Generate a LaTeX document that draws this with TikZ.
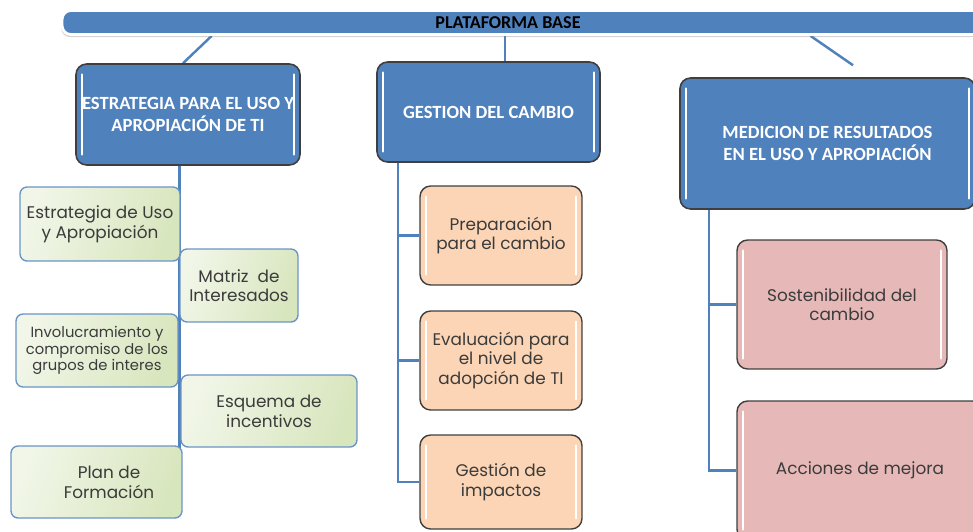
\documentclass[tikz,border=0pt]{standalone}
\usepackage{fontspec}
\setmainfont{Poppins}
\newfontfamily\cabfont{Carlito}
\usetikzlibrary{backgrounds,shadows}

\definecolor{azulcab}{HTML}{4F81BD}
\definecolor{bordeos}{HTML}{3F3F3F}
\definecolor{verdeA}{HTML}{F1F6E8}
\definecolor{verdeB}{HTML}{D8E6BE}
\definecolor{bordeverde}{HTML}{6B94C7}
\definecolor{durazno}{HTML}{FBD5B5}
\definecolor{rosa}{HTML}{E6B9B8}
\definecolor{textogris}{HTML}{3B3B3B}

\tikzset{brillo/.style = {path picture = {
             \draw[white, line width=1.4pt, line cap=round]
               ([xshift=3.5pt,yshift=-6pt]path picture bounding box.north west) --
               ([xshift=3.5pt,yshift=6pt]path picture bounding box.south west);
             \draw[white, line width=1.4pt, line cap=round]
               ([xshift=-3.5pt,yshift=-6pt]path picture bounding box.north east) --
               ([xshift=-3.5pt,yshift=6pt]path picture bounding box.south east);}},
         cabeza/.style = {draw=bordeos, fill=azulcab, line width=0.9pt, rounded corners=6pt,
                          text=white, align=center, brillo,
                          font=\cabfont\bfseries\fontsize{10.6}{13}\selectfont},
         verde/.style = {draw=bordeverde, line width=0.8pt, rounded corners=4pt,
                         left color=verdeA, right color=verdeB, shading angle=70,
                         text=textogris, align=center, font=\fontsize{9.6}{11.2}\selectfont},
         caja/.style = {draw=bordeos, line width=0.8pt, rounded corners=6pt, fill=#1,
                        text=textogris, align=center, brillo, font=\fontsize{9.6}{11}\selectfont},
         conector/.style = {draw=azulcab, line width=1.4pt}
        }

\begin{document}
\begin{tikzpicture}[x=0.02cm, y=-0.02cm]
\useasboundingbox (0,0) rectangle (973,531);

% barra superior
\node[fill=azulcab, draw=white, line width=1.6pt, rounded corners=5pt,
      drop shadow={opacity=0.35, shadow xshift=-0.5pt, shadow yshift=-1.5pt},
      minimum width=18.6cm, minimum height=0.48cm,
      label={[font=\cabfont\bfseries\fontsize{10.3}{12}\selectfont, xshift=-0.38cm]center:PLATAFORMA BASE}]
      at (527,22.5) (base) {};

% cabezas
\node[cabeza, minimum width=4.48cm, minimum height=2.02cm] at (188,114.5) (est)
     {ESTRATEGIA PARA EL USO Y\\APROPIACIÓN DE TI};
\node[cabeza, minimum width=4.46cm, minimum height=2cm] at (488.5,112) (ges)
     {GESTION DEL CAMBIO};
\node[cabeza, minimum width=5.9cm, minimum height=2.62cm] at (827.5,143.5) (med)
     {MEDICION DE RESULTADOS\\EN EL USO Y APROPIACIÓN};

% estrategia
\node[verde, minimum width=3.2cm, minimum height=1.48cm] at (100,224) (eu)
     {Estrategia de Uso\\y Apropiación};
\node[verde, minimum width=2.36cm, minimum height=1.46cm] at (239,285.5) (mi)
     {Matriz\ \ de\\Interesados};
\node[verde, minimum width=3.24cm, minimum height=1.46cm,
      font=\fontsize{8.4}{9.6}\selectfont] at (97,350.5) (inv)
     {Involucramiento y\\compromiso de los\\grupos de interes};
\node[verde, minimum width=3.52cm, minimum height=1.44cm] at (269,411) (esq)
     {Esquema de\\incentivos};
\node[verde, minimum width=3.42cm, minimum height=1.44cm] at (96.5,482) (pf)
     {\hspace*{0.5cm}Plan de\\\hspace*{0.5cm}Formación};

% cambio
\node[caja=durazno, minimum width=3.24cm, minimum height=1.98cm] at (501,235.5) (pc)
     {Preparación\\para el cambio};
\node[caja=durazno, minimum width=3.24cm, minimum height=1.98cm] at (501,360.5) (ev)
     {Evaluación para\\el nivel de\\adopción de TI};
\node[caja=durazno, minimum width=3.24cm, minimum height=1.88cm] at (501,482) (gi)
     {Gestión de\\impactos};

% medicion
\node[caja=rosa, minimum width=4.2cm, minimum height=2.58cm] at (842,304.5) (sc)
     {Sostenibilidad del\\cambio};
\node[caja=rosa, minimum width=4.92cm, minimum height=2.78cm] at (860,470.5) (am)
     {Acciones de mejora};

\begin{scope}[on background layer]
\draw[conector] ([xshift=3.02cm]base.south west) -- ([xshift=-0.1cm]est.north);
\draw[conector] ([xshift=0.33cm]ges.north) -- ([xshift=0.33cm]ges.north |- base.south);
\draw[conector] ([xshift=15cm]base.south west) -- ([xshift=0.51cm,yshift=0.24cm]med.north);

\draw[conector] (est.south -| mi.west) -- (pf.east -| mi.west);

\coordinate (gb) at ([xshift=0.44cm]ges.south west);
\draw[conector] (gb) |- (gi.west);
\draw[conector] (gb |- pc.west) -- (pc.west);
\draw[conector] (gb |- ev.west) -- (ev.west);

\coordinate (mb) at ([xshift=0.6cm]med.south west);
\draw[conector] (mb) |- (am.west);
\draw[conector] (mb |- sc.west) -- (sc.west);
\end{scope}
\end{tikzpicture}
\end{document}
